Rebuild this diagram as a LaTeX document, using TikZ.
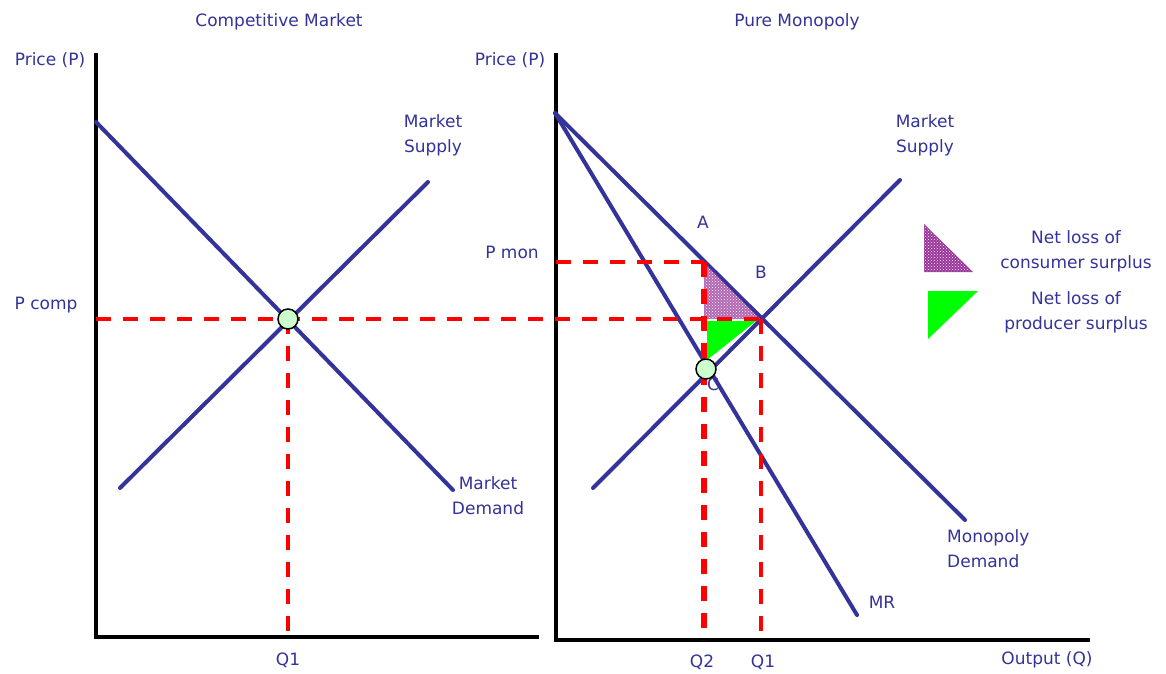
\documentclass[tikz,border=0pt]{standalone}
\usepackage{fontspec}
\setmainfont{DejaVu Sans}
\usetikzlibrary{patterns}
\definecolor{navy}{RGB}{51,51,153}
\definecolor{rd}{RGB}{255,0,0}
\definecolor{grn}{RGB}{0,255,0}
\definecolor{purp}{RGB}{128,0,128}
\definecolor{pale}{RGB}{204,255,204}
\begin{document}
\begin{tikzpicture}[x=1pt,y=-1pt,
  curve/.style={draw=navy,line width=4pt,line cap=round},
  axisline/.style={draw=black,line width=4pt},
  rdash/.style={draw=rd,line width=3.5pt,dash pattern=on 15pt off 12pt},
  rdashthick/.style={draw=rd,line width=6pt,dash pattern=on 15pt off 12pt},
  lbl/.style={text=navy,font=\fontsize{17}{25}\selectfont,inner sep=0pt,align=center},
  eqdot/.style={circle,draw=black,line width=1.5pt,fill=pale,minimum size=20pt,inner sep=0pt},
  csbase/.style={fill=purp!80},
  cs/.style={pattern=crosshatch dots,pattern color=white},
  ps/.style={fill=grn}]
\useasboundingbox (0,0) rectangle (1166,673);
\fill[white] (0,0) rectangle (1166,673);

% ---------- coordinates ----------
% left panel
\coordinate (L0) at (96,637);
\coordinate (Ltop) at (96,53);
\coordinate (Lend) at (539,637);
\coordinate (D1a) at (96,122);
\coordinate (D1b) at (453,490);
\coordinate (S1a) at (120,488);
\coordinate (S1b) at (428,182);
\coordinate (E1) at (288,319);
\coordinate (Pc) at (96,319);
\coordinate (Q1l) at (288,637);
% right panel
\coordinate (R0) at (556,640);
\coordinate (Rtop) at (556,53);
\coordinate (Rend) at (1090,640);
\coordinate (D2a) at (555,113);
\coordinate (D2b) at (965,520);
\coordinate (MRb) at (857,615);
\coordinate (S2a) at (593,488);
\coordinate (S2b) at (900,180);
\coordinate (A) at (704,262);
\coordinate (B) at (760,319);
\coordinate (Pm) at (556,262);
\coordinate (Q2r) at (704,640);
\coordinate (B1) at (761,319);
\coordinate (Q1r) at (761,640);
\coordinate (G1) at (707,321);
\coordinate (G2) at (756,321);
\coordinate (G3) at (707,360);

% ---------- titles and axis labels ----------
\node[lbl] (t1) at (279,22) {Competitive Market};
\node[lbl] (t2) at (797,22) {Pure Monopoly};
\node[lbl] (p1) at (50,60) {Price (P)};
\node[lbl] (p2) at (510,60) {Price (P)};

% ---------- axes ----------
\draw[axisline] (Ltop) -- (L0) -- (Lend);
\draw[axisline] (Rtop) -- (R0) -- (Rend);

% ---------- curves ----------
\draw[curve] (D1a) -- (D1b);
\draw[curve] (S1a) -- (S1b);
\draw[curve] (D2a) -- (D2b);
\draw[curve] (D2a) -- (MRb);
\draw[curve] (S2a) -- (S2b);

% ---------- surplus areas ----------
\fill[csbase,opacity=0.75] (A) -- (B) -- (A |- B) -- cycle;
\fill[cs] (A) -- (B) -- (A |- B) -- cycle;
\fill[ps] (G1) -- (G2) -- (G3) -- cycle;

% ---------- dashed guides ----------
\draw[rdash] (Pc) -- (B);
\draw[rdash] (E1) -- (Q1l);
\draw[rdash] (Pm) -- (A);
\draw[rdashthick] (A) -- (Q2r);
\draw[rdash] (B1) -- (Q1r);

% ---------- labels ----------
\node[lbl] (ms1) at (433,135) {Market\\Supply};
\node[lbl] (md1) at (488,496) {Market\\Demand};
\node[lbl] (pcomp) at (46,305) {P comp};
\node[lbl] (q1a) at (288,660) {Q1};
\node[lbl] (ms2) at (925,135) {Market\\Supply};
\node[lbl,align=left,anchor=west] (md2) at (947,549) {Monopoly\\Demand};
\node[lbl] (pmon) at (512,252) {P mon};
\node[lbl] (la) at (703,222) {A};
\node[lbl] (lb) at (761,272) {B};
\node[lbl] (lc) at (713,384) {C};
\node[lbl] (mr) at (882,602) {MR};
\node[lbl] (q2) at (702,662) {Q2};
\node[lbl] (q1b) at (763,662) {Q1};
\node[lbl] (out) at (1047,660) {Output (Q)};

% ---------- equilibrium dots ----------
\node[eqdot] (e1) at (E1) {};
\node[eqdot] (e2) at (706,369) {};

% ---------- legend ----------
\coordinate (K1) at (924,224);
\coordinate (K2) at (924,272);
\coordinate (K3) at (973,272);
\fill[csbase] (K1) -- (K2) -- (K3) -- cycle;
\fill[cs] (K1) -- (K2) -- (K3) -- cycle;
\node[lbl] (lg1) at (1076,251) {Net loss of\\consumer surplus};
\coordinate (M1) at (928,291);
\coordinate (M2) at (978,291);
\coordinate (M3) at (928,339);
\fill[ps] (M1) -- (M2) -- (M3) -- cycle;
\node[lbl] (lg2) at (1076,312) {Net loss of\\producer surplus};
\end{tikzpicture}
\end{document}
